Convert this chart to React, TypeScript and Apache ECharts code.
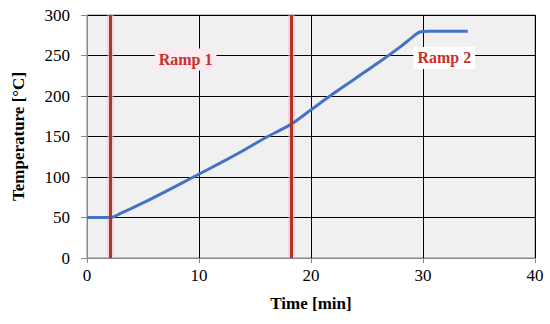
import React, { useEffect, useRef } from "react";
import * as echarts from "echarts";

const timeMin = [0, 2.1, 3, 5, 7, 9.5, 12, 14, 16, 18.2, 20, 22, 24, 26, 28, 29, 29.7, 30.5, 34];
const tempC = [50, 50, 55, 68, 82, 100, 118, 133, 149, 165, 183, 203, 222, 241, 261, 272, 279, 280, 280];
const rampLines = [2.1, 18.2];
const rampLabels = [
  { name: "Ramp 1", x: 8.8, y: 245, bg: "#fbeaf0" },
  { name: "Ramp 2", x: 31.9, y: 247, bg: "#ffffff" },
];

const FONT = "'Liberation Serif', 'DejaVu Serif', serif";

export default function App() {
  const ref = useRef<HTMLDivElement>(null);
  useEffect(() => {
    const chart = echarts.init(ref.current!, undefined, { renderer: "svg" });
    chart.setOption({
      animation: false,
      grid: { left: 87, right: 15, top: 15, bottom: 66, show: true, backgroundColor: "#f0f0f0", borderColor: "#888", borderWidth: 1 },
      xAxis: {
        type: "value", min: 0, max: 40, interval: 10,
        name: "Time [min]", nameLocation: "middle", nameGap: 37,
        nameTextStyle: { fontFamily: FONT, fontSize: 17, fontWeight: "bold", color: "#000" },
        axisLine: { show: true, lineStyle: { color: "#888" } },
        axisTick: { show: true, length: 5, lineStyle: { color: "#888" } },
        axisLabel: { fontFamily: FONT, fontSize: 17, color: "#000", margin: 9 },
        splitLine: { show: true, lineStyle: { color: "#000", width: 1 } },
      },
      yAxis: {
        type: "value", min: 0, max: 300, interval: 50,
        name: "Temperature [°C]", nameLocation: "middle", nameGap: 60, nameRotate: 90,
        nameTextStyle: { fontFamily: FONT, fontSize: 17, fontWeight: "bold", color: "#000" },
        axisLine: { show: true, lineStyle: { color: "#888" } },
        axisTick: { show: true, length: 6, lineStyle: { color: "#888" } },
        axisLabel: { fontFamily: FONT, fontSize: 17, color: "#000", margin: 17 },
        splitLine: { show: true, lineStyle: { color: "#000", width: 1 } },
      },
      series: [
        {
          type: "line",
          data: timeMin.map((t, i) => [t, tempC[i]]),
          smooth: 0.3,
          showSymbol: false,
          lineStyle: { color: "#4472c4", width: 3 },
          z: 3,
          markLine: {
            silent: true, symbol: "none", label: { show: false },
            lineStyle: { color: "rgba(255,175,205,0.5)", width: 7, type: "solid" },
            data: rampLines.map((x) => ({ xAxis: x })),
            z: 1,
          },
        },
        {
          type: "line",
          data: [],
          markLine: {
            silent: true, symbol: "none", label: { show: false },
            lineStyle: { color: "#a8382a", width: 3, type: "solid" },
            data: rampLines.map((x) => ({ xAxis: x })),
          },
          markPoint: {
            symbol: "rect", symbolSize: 0,
            data: rampLabels.map((r) => ({
              coord: [r.x, r.y], value: r.name,
              label: {
                show: true, position: "inside", formatter: r.name,
                fontFamily: FONT, fontSize: 16, fontWeight: "bold", color: "#c9302c",
                backgroundColor: r.bg, padding: [3, 4],
              },
            })),
          },
          z: 4,
        },
      ],
    });
    return () => chart.dispose();
  }, []);
  return <div ref={ref} style={{ position: "absolute", left: 0, top: 0, width: 550, height: 324 }} />;
}
